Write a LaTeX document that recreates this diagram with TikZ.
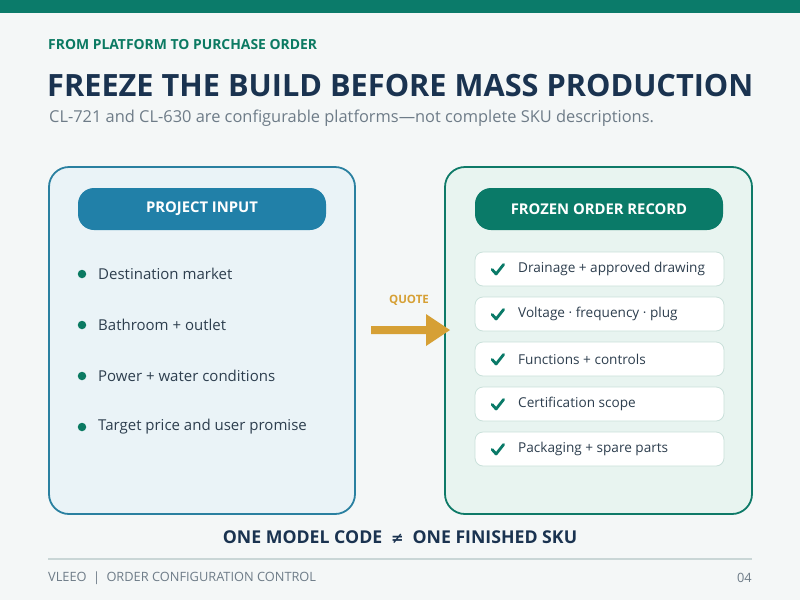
\documentclass[tikz,border=0pt]{standalone}
\usepackage{fontspec}
\setmainfont{Open Sans}
\newfontfamily\symfont{DejaVu Sans}
\usetikzlibrary{arrows.meta,calc}
\definecolor{bg}{HTML}{F4F7F7}
\definecolor{topbar}{HTML}{0B7B6A}
\definecolor{kicker}{HTML}{0B7A62}
\definecolor{navy}{HTML}{1A3350}
\definecolor{subgrey}{HTML}{6E7C88}
\definecolor{blueborder}{HTML}{2A80A0}
\definecolor{bluepill}{HTML}{2180A8}
\definecolor{bluefill}{HTML}{EAF3F7}
\definecolor{greenborder}{HTML}{0E7A68}
\definecolor{greenfill}{HTML}{E8F4F0}
\definecolor{greenpill}{HTML}{0A7A68}
\definecolor{itemborder}{HTML}{C9E0DA}
\definecolor{gold}{HTML}{D6A035}
\definecolor{rule}{HTML}{C9D6D6}
\definecolor{bodytext}{HTML}{2D3E4E}
\tikzset{
  panel/.style={rounded corners=20pt, line width=1.8pt},
  pill/.style={rounded corners=16pt, minimum width=248pt, minimum height=42pt, inner sep=0pt,
    text=white, font=\fontsize{14.8}{17}\selectfont\bfseries},
  bul/.style={anchor=west, inner sep=0pt, text=bodytext, font=\fontsize{15}{18}\selectfont},
  dot/.style={circle, fill=kicker, minimum size=8.5pt, inner sep=0pt},
  item/.style={draw=itemborder, fill=white, line width=0.8pt, rounded corners=8pt,
    minimum width=249pt, minimum height=34pt, inner sep=0pt},
  itemtext/.style={anchor=west, inner sep=0pt, text=bodytext, font=\fontsize{13.6}{16}\selectfont},
  tick/.style={draw=greenpill, line width=2.8pt, line cap=round, line join=round},
}
\begin{document}
\begin{tikzpicture}[x=1pt,y=-1pt]
\fill[bg] (0,0) rectangle (800,600);
\useasboundingbox (0,0) rectangle (800,600);
\fill[topbar] (0,0) rectangle (800,13);

\node[anchor=west, inner sep=0pt, text=kicker, font=\fontsize{13.9}{16}\selectfont\bfseries] (kick) at (48,45) {FROM PLATFORM TO PURCHASE ORDER};
\node[anchor=west, inner sep=0pt, text=navy, font=\fontsize{30.7}{34}\selectfont\bfseries] (title) at (47,85.5) {FREEZE THE BUILD BEFORE MASS PRODUCTION};
\node[anchor=west, inner sep=0pt, text=subgrey, font=\fontsize{16.4}{19}\selectfont] (sub) at (49,118.5) {CL-721 and CL-630 are configurable platforms—not complete SKU descriptions.};

% left panel
\draw[panel, draw=blueborder, fill=bluefill] (49,167) rectangle (355,514);
\node[pill, fill=bluepill] (lhead) at (202,209) {PROJECT INPUT};
\foreach \yy/\txt/\nm in {274/Destination market/a, 325/Bathroom + outlet/b, 376/Power + water conditions/c, 427/Target price and user promise/d}{
  \node[dot] (dot\nm) at (82,\yy) {};
  \node[bul] (bul\nm) at (98,\yy) {\txt};
}

% right panel
\draw[panel, draw=greenborder, fill=greenfill] (445,167) rectangle (752,514);
\node[pill, fill=greenpill] (rhead) at (599,209) {FROZEN ORDER RECORD};
\foreach \yy/\txt/\nm in {269/Drainage + approved drawing/a, 314/Voltage · frequency · plug/b, 359/Functions + controls/c, 404/Certification scope/d, 449/Packaging + spare parts/e}{
  \node[item] (item\nm) at (599.5,\yy) {};
  \draw[tick] ($(item\nm.west)+(23,0)$) ++(-5.5,0.5) -- ++(4,4.5) -- ++(7.5,-9.5);
  \node[itemtext] (itxt\nm) at (518,\yy) {\txt};
}

% arrow
\coordinate (astart) at (371,330);
\coordinate (aend) at (450,330);
\fill[gold] (371,326) -- (426,326) -- (426,314) -- (450,330) -- (426,346) -- (426,334) -- (371,334) -- cycle;
\node[text=gold, inner sep=0pt, font=\fontsize{11.5}{13}\selectfont\bfseries] (quote) at (409,300) {QUOTE};

% bottom statement
\node[text=navy, inner sep=0pt, font=\fontsize{17.7}{20}\selectfont\bfseries] (stmt) at (400,537) {ONE MODEL CODE\enspace{\symfont\fontsize{15}{18}\selectfont ≠}\enspace ONE FINISHED SKU};

\draw[rule, line width=2pt] (48,559) -- (752,559);
\node[anchor=west, inner sep=0pt, text=subgrey, font=\fontsize{12.8}{15}\selectfont] (foot) at (48,578) {VLEEO\enspace|\enspace ORDER CONFIGURATION CONTROL};
\node[anchor=east, inner sep=0pt, text=subgrey, font=\fontsize{12.8}{15}\selectfont] (page) at (752,578) {04};
\end{tikzpicture}
\end{document}
